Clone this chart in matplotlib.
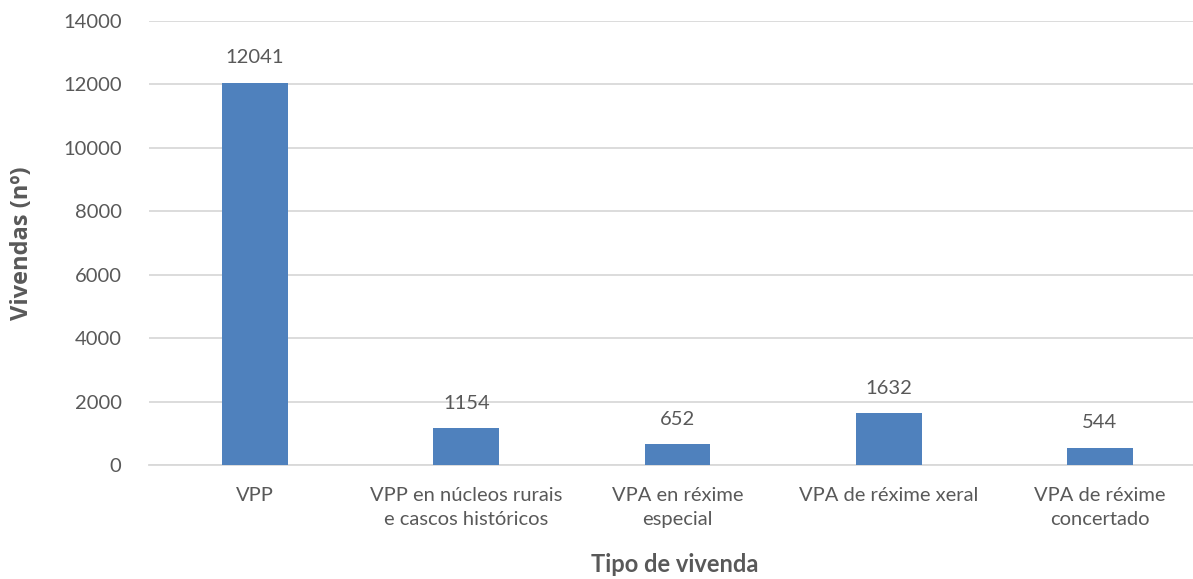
import matplotlib.pyplot as plt

categories = ['VPP', 'VPP en núcleos rurais\ne cascos históricos',
              'VPA en réxime\nespecial', 'VPA de réxime xeral',
              'VPA de réxime\nconcertado']
values = [12041, 1154, 652, 1632, 544]
yticks = [0, 2000, 4000, 6000, 8000, 10000, 12000, 14000]

txt = '#595959'
plt.rcParams['font.family'] = ['Lato', 'DejaVu Sans']

fig = plt.figure(figsize=(11.93, 5.79), dpi=100)
W, H = 1193., 579.
ax = fig.add_axes([149.4/W, 1-465/H, (W-149.4)/W, (465-20.7)/H])

x = range(len(categories))
bars = ax.bar(x, values, width=0.312, color='#4F81BD', zorder=3)
ax.bar_label(bars, labels=[str(v) for v in values], padding=12,
             fontsize=14.5, color=txt)

ax.set_ylim(0, 14000)
ax.set_xlim(-0.5, (W-255)/211.25)
ax.set_yticks(yticks)
ax.set_xticks(list(x))
ax.set_xticklabels(categories, linespacing=1.5)
ax.tick_params(axis='y', length=0, pad=20, labelsize=14.5, labelcolor=txt)
ax.tick_params(axis='x', length=0, pad=16, labelsize=14.5, labelcolor=txt)
ax.grid(axis='y', color='#D9D9D9', linewidth=1.3, zorder=0)
for s in ['top', 'right', 'left']:
    ax.spines[s].set_visible(False)
ax.spines['bottom'].set_color('#D9D9D9')
ax.spines['bottom'].set_linewidth(1.3)

ax.set_xlabel('Tipo de vivenda', fontsize=17, fontweight='bold', color=txt,
              va='center')
ax.set_ylabel('Vivendas (nº)', fontsize=17, fontweight='bold', color=txt,
              va='center', family=['Open Sans', 'DejaVu Sans'])
ax.xaxis.set_label_coords(675/W, 1-565/H, transform=fig.transFigure)
ax.yaxis.set_label_coords(22/W, 1-243/H, transform=fig.transFigure)

fig.savefig('out.png', dpi=100)
